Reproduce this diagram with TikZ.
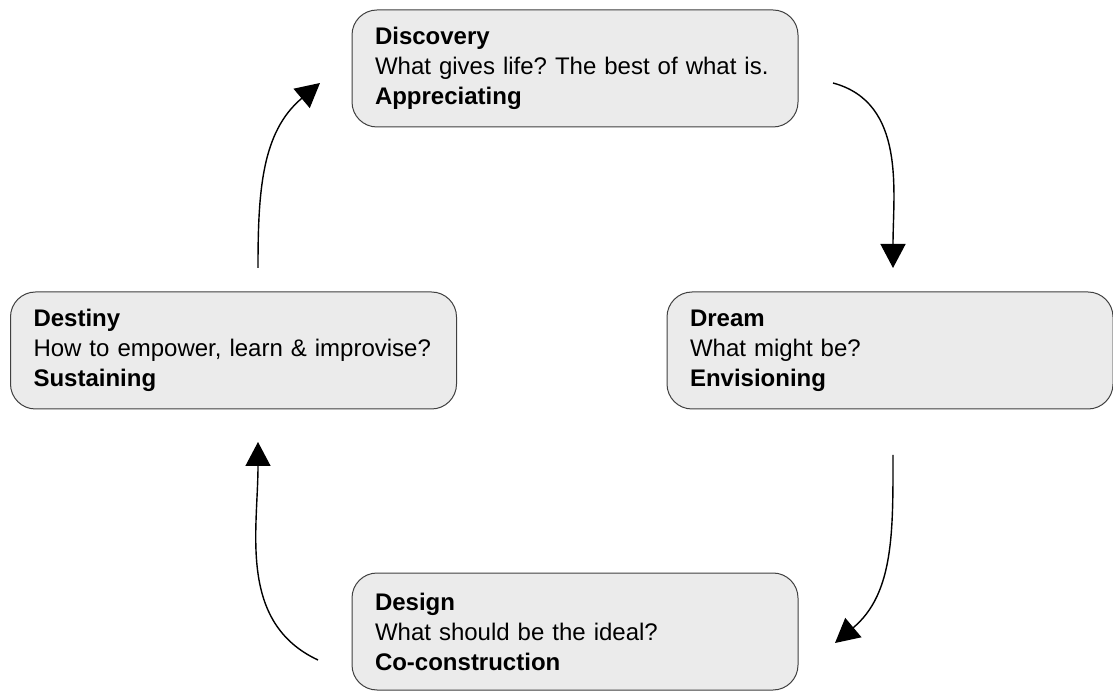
\documentclass[tikz,border=0pt]{standalone}
\usepackage{fontspec}
\setmainfont{Liberation Sans}
\usetikzlibrary{arrows.meta}
\frenchspacing
\begin{document}
\begin{tikzpicture}[
    x=1pt, y=1pt,
    font=\fontsize{24}{30}\selectfont
]
	\tikzset{
	    phasebox/.style = {rectangle, rounded corners=25pt, draw=black!75, line width=1pt,
	        fill=black!8, align=left, text width=400pt, inner xsep=23pt,
	        minimum height=117pt},
	    cyclearrow/.style = {-{Triangle[length=24pt,width=25pt]}, line width=1.4pt}
	}
	\useasboundingbox (0,0) rectangle (1113,691);
	\node[phasebox] at (575.0,622.5) (disc) {\textbf{Discovery}\\What gives life? The best of what is.\\\textbf{Appreciating}};
	\node[phasebox] at (890.0,340.5) (dream) {\textbf{Dream}\\What might be?\\\textbf{Envisioning}};
	\node[phasebox] at (575.0,59.5) (design) {\textbf{Design}\\What should be the ideal?\\\textbf{Co-construction}};
	\node[phasebox] at (233.5,340.5) (destiny) {\textbf{Destiny}\\How to empower, learn \& improvise?\\\textbf{Sustaining}};
	% arrow ends
	\coordinate (discout) at (833,608);
	\coordinate (dreamin) at (893,423);
	\coordinate (dreamout) at (893,236);
	\coordinate (designin) at (835,48);
	\coordinate (designout) at (318,31);
	\coordinate (destinyin) at (258,249);
	\coordinate (destinyout) at (258,423);
	\coordinate (discin) at (320,608);
	\draw[cyclearrow] (discout) to[out=-15, in=90] (dreamin);
	\draw[cyclearrow] (dreamout) to[out=-90, in=40] (designin);
	\draw[cyclearrow] (designout) to[out=155, in=-90] (destinyin);
	\draw[cyclearrow] (destinyout) to[out=90, in=220] (discin);
\end{tikzpicture}
\end{document}
